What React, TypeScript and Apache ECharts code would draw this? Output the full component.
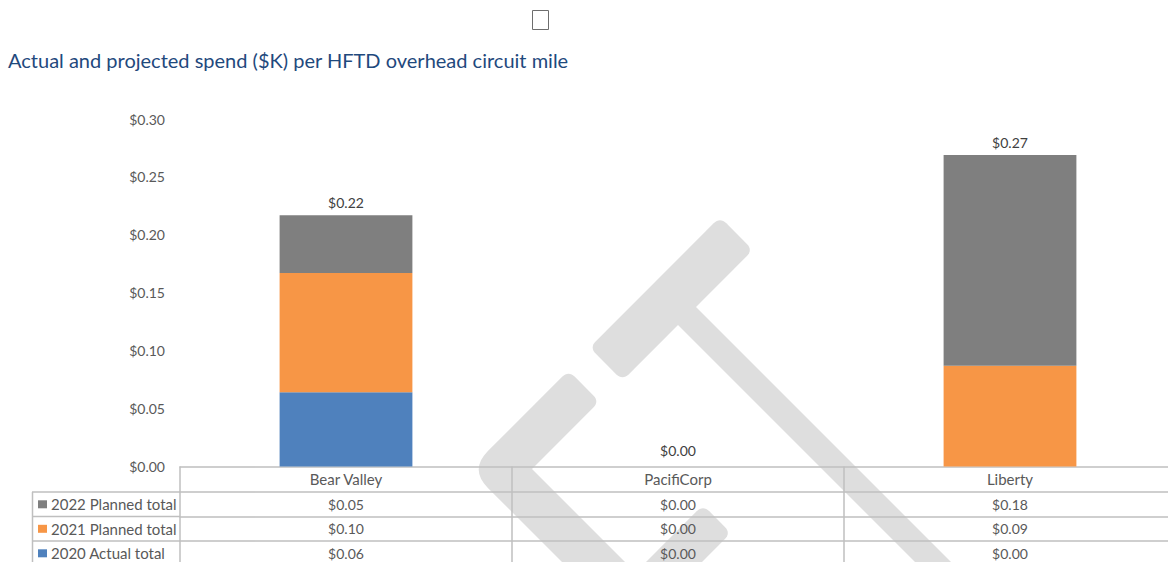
import React, { useEffect, useRef } from "react";
import * as echarts from "echarts";

const categories = ["Bear Valley", "PacifiCorp", "Liberty"];
const actual2020 = [0.064, 0, 0];
const planned2021 = [0.103, 0, 0.087];
const planned2022 = [0.05, 0, 0.182];
const seriesNames = ["2020 Actual total", "2021 Planned total", "2022 Planned total"];
const seriesColors = ["#4F81BD", "#F79646", "#7F7F7F"];
const yMin = 0;
const yMax = 0.3;
const yInterval = 0.05;
const titleText = "Actual and projected spend ($K) per HFTD overhead circuit mile";

const FONT = "Lato";
const NUM_SIZE = 14;
const NAME_SIZE = 15;
const fmt = (v: number) => "$" + v.toFixed(2);

type P = [number, number];

function uv(u: number, v: number): P {
  return [(u + v) / 2, (v - u) / 2];
}

function roundedPoly(pts: P[], radii: number[]): number[][] {
  const out: number[][] = [];
  const n = pts.length;
  for (let i = 0; i < n; i++) {
    const cur = pts[i];
    const r = radii[i] || 0;
    if (r <= 0) {
      out.push([cur[0], cur[1]]);
      continue;
    }
    const prev = pts[(i - 1 + n) % n];
    const next = pts[(i + 1) % n];
    const d1x = prev[0] - cur[0], d1y = prev[1] - cur[1];
    const l1 = Math.hypot(d1x, d1y);
    const d2x = next[0] - cur[0], d2y = next[1] - cur[1];
    const l2 = Math.hypot(d2x, d2y);
    const s: P = [cur[0] + (d1x / l1) * r, cur[1] + (d1y / l1) * r];
    const e: P = [cur[0] + (d2x / l2) * r, cur[1] + (d2y / l2) * r];
    const steps = 8;
    for (let k = 0; k <= steps; k++) {
      const t = k / steps;
      const a = (1 - t) * (1 - t), b = 2 * (1 - t) * t, c = t * t;
      out.push([a * s[0] + b * cur[0] + c * e[0], a * s[1] + b * cur[1] + c * e[1]]);
    }
  }
  return out;
}

function watermark() {
  const fill = "#DEDEDE";
  const shapes: { pts: P[]; radii: number[] }[] = [
    { pts: [uv(242, 937), uv(503, 937), uv(503, 1003), uv(242, 1003)], radii: [9, 9, 9, 9] },
    { pts: [uv(353, 995), uv(389, 995), uv(389, 2200), uv(353, 2200)], radii: [0, 0, 0, 0] },
    {
      pts: [uv(198, 939), uv(198, 1001), uv(63, 1001), uv(63, 2000), uv(0, 2000), uv(0, 939)],
      radii: [9, 9, 0, 0, 0, 26],
    },
    { pts: [uv(198, 1208), uv(198, 1264), uv(-600, 1264), uv(-600, 1208)], radii: [9, 9, 0, 0] },
  ];
  return shapes.map((s) => ({
    type: "polygon",
    z: -10,
    silent: true,
    shape: { points: roundedPoly(s.pts, s.radii) },
    style: { fill },
  }));
}

export default function App() {
  const ref = useRef<HTMLDivElement>(null);
  useEffect(() => {
    if (!ref.current) return;
    const chart = echarts.init(ref.current, null, { renderer: "svg" });
    const H = 562;
    const gridLeft = 180, gridTop = 119, gridBottom = 95.5;
    const axisY = H - gridBottom;
    const rowOffsets = [25.5, 50, 74.5];
    const lineColor = "#BFBFBF";
    const textColor = "#595959";
    const totals = categories.map((_, i) => actual2020[i] + planned2021[i] + planned2022[i]);
    const rows = [
      { name: seriesNames[2], data: planned2022, color: seriesColors[2] },
      { name: seriesNames[1], data: planned2021, color: seriesColors[1] },
      { name: seriesNames[0], data: actual2020, color: seriesColors[0] },
    ];
    const rowAxes = rows.map((row, i) => ({
      type: "category",
      data: categories,
      position: "bottom",
      offset: rowOffsets[i],
      axisLine: { show: true, lineStyle: { color: lineColor, width: 1.5 } },
      axisTick: { show: false },
      axisLabel: {
        interval: 0,
        margin: 5,
        color: textColor,
        fontSize: NUM_SIZE,
        fontFamily: FONT,
        formatter: (_v: string, idx: number) => fmt(row.data[idx]),
      },
    }));
    const leftGraphics: any[] = [];
    leftGraphics.push({
      type: "line",
      shape: { x1: 32.5, y1: axisY + rowOffsets[0], x2: 32.5, y2: H + 10 },
      style: { stroke: lineColor, lineWidth: 1.5 },
    });
    rows.forEach((row, i) => {
      const y0 = axisY + rowOffsets[i];
      leftGraphics.push({
        type: "line",
        shape: { x1: 32, y1: y0, x2: gridLeft, y2: y0 },
        style: { stroke: lineColor, lineWidth: 1.5 },
      });
      const cy = y0 + 12.3;
      leftGraphics.push({
        type: "rect",
        shape: { x: 38, y: cy - 4, width: 9, height: 8 },
        style: { fill: row.color },
      });
      leftGraphics.push({
        type: "text",
        x: 51,
        y: cy,
        style: {
          text: row.name,
          fill: textColor,
          fontSize: NAME_SIZE,
          fontFamily: FONT,
          verticalAlign: "middle",
          align: "left",
        },
      });
    });
    const option: any = {
      animation: false,
      backgroundColor: "#ffffff",
      title: {
        text: titleText,
        left: 3,
        top: 45,
        textStyle: { fontSize: 20, fontWeight: "normal", color: "#1F497D", fontFamily: FONT },
      },
      grid: { left: gridLeft, right: 0, top: gridTop, bottom: gridBottom, containLabel: false },
      xAxis: [
        {
          type: "category",
          data: categories,
          position: "bottom",
          axisLine: { show: true, lineStyle: { color: lineColor, width: 1.5 } },
          axisTick: { show: true, interval: 0, length: 110, lineStyle: { color: lineColor, width: 1.5 } },
          axisLabel: { interval: 0, margin: 5, color: textColor, fontSize: NAME_SIZE, fontFamily: FONT },
        },
        ...rowAxes,
      ],
      yAxis: {
        type: "value",
        min: yMin,
        max: yMax,
        interval: yInterval,
        axisLine: { show: false },
        axisTick: { show: false },
        splitLine: { show: false },
        axisLabel: {
          margin: 15,
          color: textColor,
          fontSize: NUM_SIZE,
          fontFamily: FONT,
          formatter: (v: number) => fmt(v),
        },
      },
      series: [
        {
          name: seriesNames[0],
          type: "bar",
          stack: "total",
          data: actual2020,
          barCategoryGap: "60%",
          itemStyle: { color: seriesColors[0] },
        },
        {
          name: seriesNames[1],
          type: "bar",
          stack: "total",
          data: planned2021,
          barCategoryGap: "60%",
          itemStyle: { color: seriesColors[1] },
        },
        {
          name: seriesNames[2],
          type: "bar",
          stack: "total",
          data: planned2022.map((v, i) => ({
            value: v,
            label: totals[i] === 0 ? { distance: 9 } : undefined,
          })),
          barCategoryGap: "60%",
          itemStyle: { color: seriesColors[2] },
          label: {
            show: true,
            position: "top",
            distance: 5.5,
            color: "#404040",
            fontSize: NUM_SIZE,
            fontFamily: FONT,
            formatter: (p: any) => fmt(totals[p.dataIndex]),
          },
        },
      ],
      graphic: [
        ...watermark(),
        {
          type: "rect",
          shape: { x: 532.5, y: 10.5, width: 16, height: 19 },
          style: { fill: "none", stroke: "#6E6E6E", lineWidth: 1 },
        },
        ...leftGraphics,
      ],
    };
    chart.setOption(option);
    return () => chart.dispose();
  }, []);
  return (
    <div
      style={{ position: "fixed", left: 0, top: 0, width: 1168, height: 562, overflow: "hidden", background: "#fff" }}
    >
      <div ref={ref} style={{ width: 1176, height: 562 }} />
    </div>
  );
}
